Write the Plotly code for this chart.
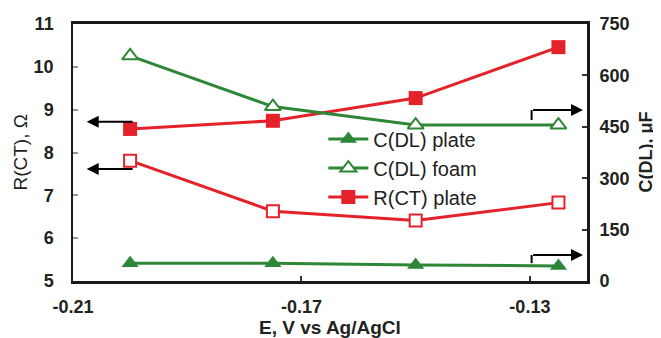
import plotly.graph_objects as go

# ---- data ----
potential = [-0.2, -0.175, -0.15, -0.125]
rct_plate = [8.55, 8.74, 9.27, 10.46]
rct_foam = [7.81, 6.63, 6.41, 6.83]
cdl_plate = [52, 52, 47, 44]
cdl_foam = [657, 509, 455, 455]

x_ticks = [-0.21, -0.17, -0.13]
left_ticks = [5, 6, 7, 8, 9, 10, 11]
right_ticks = [0, 150, 300, 450, 600, 750]

RED = "#e4222a"
GREEN = "#2e8736"
FONT = "Arial, Liberation Sans, sans-serif"

fig = go.Figure()

fig.add_trace(go.Scatter(x=potential, y=cdl_plate, name="C(DL) plate", yaxis="y2",
                         mode="lines+markers", line=dict(color=GREEN, width=3),
                         marker=dict(symbol="triangle-up", size=15, color=GREEN)))
fig.add_trace(go.Scatter(x=potential, y=cdl_foam, name="C(DL) foam", yaxis="y2",
                         mode="lines+markers", line=dict(color=GREEN, width=3),
                         marker=dict(symbol="triangle-up", size=14, color="white",
                                     line=dict(color=GREEN, width=2))))
fig.add_trace(go.Scatter(x=potential, y=rct_plate, name="R(CT) plate",
                         mode="lines+markers", line=dict(color=RED, width=3),
                         marker=dict(symbol="square", size=14, color=RED)))
fig.add_trace(go.Scatter(x=potential, y=rct_foam, name="R(CT) foam", showlegend=False,
                         mode="lines+markers", line=dict(color=RED, width=3),
                         marker=dict(symbol="square", size=12, color="white",
                                     line=dict(color=RED, width=2))))

arrow_common = dict(showarrow=True, arrowhead=2, arrowsize=1.2, arrowwidth=2,
                    arrowcolor="black", text="")
# left-pointing arrows (R(CT) -> left axis)
fig.add_annotation(x=-0.2076, y=8.72, ax=-0.1993, ay=8.72, xref="x", yref="y",
                   axref="x", ayref="y", **arrow_common)
fig.add_annotation(x=-0.2076, y=7.615, ax=-0.1993, ay=7.615, xref="x", yref="y",
                   axref="x", ayref="y", **arrow_common)
# right-pointing arrows (C(DL) -> right axis)
fig.add_annotation(x=-0.1207, y=499, ax=-0.1297, ay=499, xref="x", yref="y2",
                   axref="x", ayref="y2", **arrow_common)
fig.add_annotation(x=-0.1207, y=76, ax=-0.1297, ay=76, xref="x", yref="y2",
                   axref="x", ayref="y2", **arrow_common)
fig.add_shape(type="line", x0=-0.1297, x1=-0.1297, y0=470, y1=499, xref="x", yref="y2",
              line=dict(color="black", width=2))
fig.add_shape(type="line", x0=-0.1297, x1=-0.1297, y0=52, y1=76, xref="x", yref="y2",
              line=dict(color="black", width=2))

# axis titles
fig.add_annotation(text="R(CT), Ω", xref="paper", yref="paper", x=-0.103, y=0.5,
                   textangle=-90, showarrow=False, xanchor="center", yanchor="middle",
                   font=dict(family=FONT, size=19, color="#222"))
fig.add_annotation(text="<b>C(DL), μF</b>", xref="paper", yref="paper", x=1.0, xshift=70, y=0.5,
                   textangle=-90, showarrow=False, xanchor="right", yanchor="middle",
                   font=dict(family=FONT, size=18, color="#222"))
fig.add_annotation(text="<b>E, V vs Ag/AgCl</b>", xref="paper", yref="paper", x=0.5, y=-0.179,
                   showarrow=False, xanchor="center", yanchor="middle",
                   font=dict(family=FONT, size=19, color="#222"))

tickfont = dict(family=FONT, size=18, color="#222", weight="bold")

# page body has an 8px margin, so the figure is 8px smaller than the window
fig.update_layout(
    width=653, height=330,
    margin=dict(l=65, r=74, t=16, b=57, autoexpand=False),
    paper_bgcolor="white", plot_bgcolor="white",
    font=dict(family=FONT),
    showlegend=True,
    legend=dict(x=0.487, y=0.628, xanchor="left", yanchor="top",
                bgcolor="rgba(0,0,0,0)", font=dict(family=FONT, size=20, color="#222"),
                tracegroupgap=0, itemwidth=40),
    xaxis=dict(range=[-0.21, -0.12], tickvals=x_ticks, ticktext=[str(v) for v in x_ticks],
               showgrid=False, zeroline=False, showline=True, linecolor="#1a1a1a",
               linewidth=2.5, mirror=True, ticks="inside", ticklen=5, tickwidth=1.5,
               tickcolor="#333", tickfont=tickfont, ticklabelstandoff=8, automargin=False),
    yaxis=dict(range=[5, 11], tickvals=left_ticks, showgrid=False, zeroline=False,
               showline=True, linecolor="#1a1a1a", linewidth=1.5, ticks="inside",
               ticklen=5, tickwidth=1.5, tickcolor="#999", tickfont=tickfont,
               ticklabelstandoff=14, automargin=False),
    yaxis2=dict(range=[0, 750], tickvals=right_ticks, overlaying="y", side="right",
                showgrid=False, zeroline=False, showline=True, linecolor="#1a1a1a",
                linewidth=3, ticks="inside", ticklen=5, tickwidth=1.5, tickcolor="#333",
                tickfont=tickfont, ticklabelstandoff=6, automargin=False),
)

fig.write_html("out.html")
